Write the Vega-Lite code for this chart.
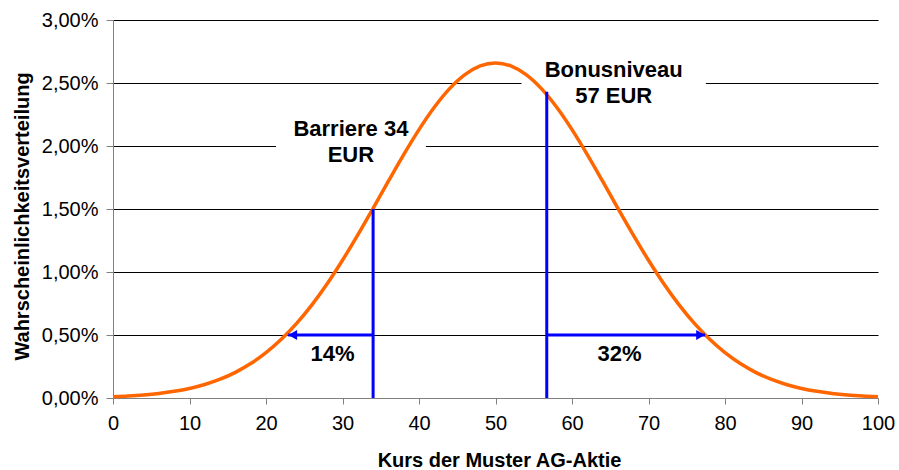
{
  "$schema": "https://vega.github.io/schema/vega-lite/v6.json",
  "width": 765,
  "height": 378,
  "autosize": {"type": "none"},
  "padding": {"left": 113, "top": 20, "right": 21, "bottom": 72},
  "background": "white",
  "config": {
    "view": {"stroke": null},
    "font": "Liberation Sans",
    "locale": {"number": {"decimal": ",", "thousands": ".", "grouping": [3], "currency": ["", " €"]}}
  },
  "datasets": {
    "curve": [
      {"kurs": 0, "p": 0.000103}, {"kurs": 2, "p": 0.000159}, {"kurs": 4, "p": 0.000241}, {"kurs": 6, "p": 0.000360},
      {"kurs": 8, "p": 0.000528}, {"kurs": 10, "p": 0.000760}, {"kurs": 12, "p": 0.001075}, {"kurs": 14, "p": 0.001493},
      {"kurs": 16, "p": 0.002037}, {"kurs": 18, "p": 0.002733}, {"kurs": 20, "p": 0.003599}, {"kurs": 22, "p": 0.004658},
      {"kurs": 24, "p": 0.005921}, {"kurs": 26, "p": 0.007395}, {"kurs": 28, "p": 0.009072}, {"kurs": 30, "p": 0.010934},
      {"kurs": 32, "p": 0.012946}, {"kurs": 34, "p": 0.015057}, {"kurs": 36, "p": 0.017205}, {"kurs": 38, "p": 0.019313},
      {"kurs": 40, "p": 0.021297}, {"kurs": 42, "p": 0.023070}, {"kurs": 44, "p": 0.024551}, {"kurs": 46, "p": 0.025667},
      {"kurs": 48, "p": 0.026361}, {"kurs": 50, "p": 0.026596}, {"kurs": 52, "p": 0.026361}, {"kurs": 54, "p": 0.025667},
      {"kurs": 56, "p": 0.024551}, {"kurs": 58, "p": 0.023070}, {"kurs": 60, "p": 0.021297}, {"kurs": 62, "p": 0.019313},
      {"kurs": 64, "p": 0.017205}, {"kurs": 66, "p": 0.015057}, {"kurs": 68, "p": 0.012946}, {"kurs": 70, "p": 0.010934},
      {"kurs": 72, "p": 0.009072}, {"kurs": 74, "p": 0.007395}, {"kurs": 76, "p": 0.005921}, {"kurs": 78, "p": 0.004658},
      {"kurs": 80, "p": 0.003599}, {"kurs": 82, "p": 0.002733}, {"kurs": 84, "p": 0.002037}, {"kurs": 86, "p": 0.001493},
      {"kurs": 88, "p": 0.001075}, {"kurs": 90, "p": 0.000760}, {"kurs": 92, "p": 0.000528}, {"kurs": 94, "p": 0.000360},
      {"kurs": 96, "p": 0.000241}, {"kurs": 98, "p": 0.000159}, {"kurs": 100, "p": 0.000103}
    ],
    "boxes": [
      {"x1": 21.3, "x2": 40.9, "y1": 0.019, "y2": 0.021},
      {"x1": 53.4, "x2": 77.5, "y1": 0.024, "y2": 0.026}
    ],
    "vlines": [
      {"x": 34, "y1": 0, "y2": 0.0150},
      {"x": 56.7, "y1": 0, "y2": 0.0243}
    ],
    "hlines": [
      {"x1": 34, "x2": 22.9, "y": 0.005},
      {"x1": 56.7, "x2": 77.4, "y": 0.005}
    ],
    "heads": [
      {"x": 23.5, "y": 0.005, "dir": "triangle-left"},
      {"x": 76.8, "y": 0.005, "dir": "triangle-right"}
    ],
    "labels": [
      {"x": 31.1, "y": 0.0208, "t": ["Barriere 34", "EUR"]},
      {"x": 65.45, "y": 0.0255, "t": ["Bonusniveau", "57 EUR"]},
      {"x": 28.7, "y": 0.0029, "t": ["14%"]},
      {"x": 66.2, "y": 0.0029, "t": ["32%"]}
    ]
  },
  "layer": [
    {
      "data": {"name": "boxes"},
      "mark": {"type": "rect", "color": "white", "strokeWidth": 0},
      "encoding": {
        "x": {"field": "x1", "type": "quantitative", "scale": {"domain": [0, 100], "nice": false, "zero": false},
          "axis": {
            "title": "Kurs der Muster AG-Aktie",
            "values": [0, 5, 10, 15, 20, 25, 30, 35, 40, 45, 50, 55, 60, 65, 70, 75, 80, 85, 90, 95, 100],
            "labelExpr": "datum.value % 10 === 0 ? datum.label : ''",
            "grid": false,
            "domainColor": "#808080",
            "tickColor": "#808080",
            "tickSize": 6,
            "labelFont": "Liberation Sans",
            "labelFontSize": 20,
            "labelColor": "#000000",
            "labelPadding": 9,
            "labelFlush": false,
            "titleFont": "Liberation Sans",
            "titleFontSize": 20,
            "titleFontWeight": "bold",
            "titleColor": "#000000",
            "titleBaseline": "alphabetic",
            "titleX": 386,
            "titleY": 68
          }},
        "x2": {"field": "x2"},
        "y": {"field": "y1", "type": "quantitative", "scale": {"domain": [0, 0.03], "nice": false, "zero": true},
          "axis": {
            "title": "Wahrscheinlichkeitsverteilung",
            "values": [0, 0.005, 0.01, 0.015, 0.02, 0.025, 0.03],
            "format": ".2%",
            "gridColor": {"condition": {"test": "datum.value === 0", "value": "#808080"}, "value": "#000000"},
            "gridWidth": 1,
            "domainColor": "#808080",
            "tickColor": "#808080",
            "tickSize": 7,
            "labelFont": "Liberation Sans",
            "labelFontSize": 20,
            "labelColor": "#000000",
            "labelPadding": 8,
            "titleFont": "Liberation Sans",
            "titleFontSize": 20,
            "titleFontWeight": "bold",
            "titleColor": "#000000",
            "titleBaseline": "alphabetic",
            "titleAngle": -90,
            "titleX": -85,
            "titleY": 196
          }},
        "y2": {"field": "y2"}
      }
    },
    {
      "data": {"name": "curve"},
      "mark": {"type": "line", "color": "#FF6600", "strokeWidth": 3.5, "interpolate": "monotone"},
      "encoding": {
        "x": {"field": "kurs", "type": "quantitative"},
        "y": {"field": "p", "type": "quantitative"}
      }
    },
    {
      "data": {"name": "vlines"},
      "mark": {"type": "rule", "color": "#0000FF", "strokeWidth": 3},
      "encoding": {
        "x": {"field": "x", "type": "quantitative"},
        "y": {"field": "y1", "type": "quantitative"},
        "y2": {"field": "y2"}
      }
    },
    {
      "data": {"name": "hlines"},
      "mark": {"type": "rule", "color": "#0000FF", "strokeWidth": 3},
      "encoding": {
        "x": {"field": "x1", "type": "quantitative"},
        "x2": {"field": "x2"},
        "y": {"field": "y", "type": "quantitative"}
      }
    },
    {
      "data": {"name": "heads"},
      "mark": {"type": "point", "filled": true, "color": "#0000FF", "size": 100, "opacity": 1},
      "encoding": {
        "x": {"field": "x", "type": "quantitative"},
        "y": {"field": "y", "type": "quantitative"},
        "shape": {"field": "dir", "type": "nominal", "scale": null, "legend": null}
      }
    },
    {
      "data": {"name": "labels"},
      "mark": {"type": "text", "font": "Liberation Sans", "fontSize": 22, "fontWeight": "bold", "color": "#000000", "align": "center", "baseline": "alphabetic", "lineHeight": 26},
      "encoding": {
        "x": {"field": "x", "type": "quantitative"},
        "y": {"field": "y", "type": "quantitative"},
        "text": {"field": "t"}
      }
    }
  ]
}
